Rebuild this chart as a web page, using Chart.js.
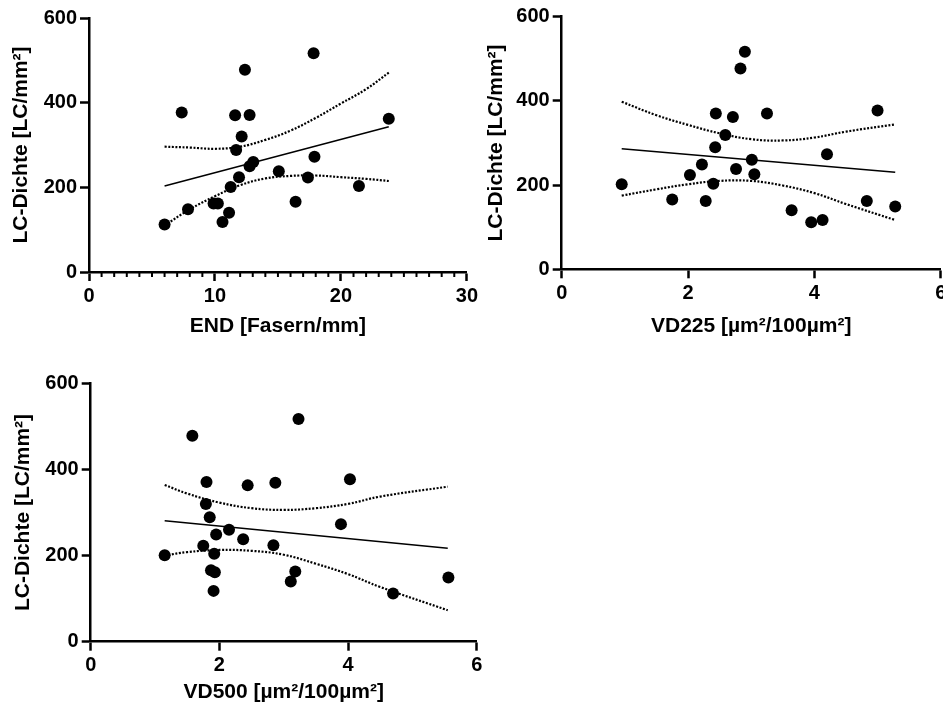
<!DOCTYPE html>
<html>
<head>
<meta charset="utf-8">
<script src="https://cdn.jsdelivr.net/npm/chart.js@4.4.0/dist/chart.umd.min.js"></script>
<style>
  html, body { margin: 0; padding: 0; background: #fff; overflow: hidden; width: 943px; height: 713px; }
  canvas { position: absolute; }
</style>
</head>
<body>
<canvas id="end-chart" width="481" height="340" style="left:0;top:0"></canvas>
<canvas id="vd225-chart" width="475" height="340" style="left:480px;top:0"></canvas>
<canvas id="vd500-chart" width="490" height="356" style="left:0;top:350px"></canvas>
<script>
// END [Fasern/mm] vs LC-Dichte
const endX = [6.0, 7.36, 7.86, 9.89, 10.23, 10.6, 11.12, 11.25, 11.6, 11.68, 11.91, 12.12, 12.38, 12.75, 12.75, 13.04, 15.07, 16.4, 17.38, 17.83, 17.9, 21.43, 23.8];
const endY = [112, 377, 148, 162, 162, 118, 140, 201, 370, 288, 224, 320, 478, 371, 250, 260, 238, 166, 223, 517, 272, 203, 362];
const endFitX = [6.0, 23.8];
const endFitY = [203, 343];
const endBandX = [6, 8, 10, 12, 14, 16, 18, 20, 22, 23.8];
const endUpper = [296, 294, 291, 296, 312, 334, 364, 398, 432, 471];
const endLower = [110, 148, 179, 205, 221, 227, 228, 224, 220, 215];

// VD225 vs LC-Dichte
const vd225X = [0.95, 1.75, 2.03, 2.22, 2.28, 2.40, 2.43, 2.44, 2.59, 2.71, 2.76, 2.83, 2.90, 3.01, 3.05, 3.25, 3.64, 3.95, 4.13, 4.20, 4.83, 5.0, 5.28];
const vd225Y = [202, 166, 224, 249, 162, 203, 290, 370, 319, 362, 238, 477, 517, 260, 226, 370, 140, 112, 117, 273, 162, 377, 149];
const vd225FitX = [0.95, 5.28];
const vd225FitY = [286.5, 230.5];
const vd225BandX = [0.95, 1.5, 2, 2.5, 3, 3.5, 4, 4.5, 5.28];
const vd225Upper = [398, 366, 343, 323, 309, 306, 313, 327, 344];
const vd225Lower = [175, 190, 202, 210, 210, 199, 181, 155, 117];

// VD500 vs LC-Dichte
const vd500X = [1.15, 1.58, 1.75, 1.79, 1.80, 1.85, 1.87, 1.91, 1.92, 1.93, 1.95, 2.15, 2.37, 2.44, 2.84, 2.87, 3.11, 3.18, 3.23, 3.89, 4.03, 4.70, 5.56];
const vd500Y = [201, 478, 223, 320, 371, 289, 166, 118, 204, 161, 249, 260, 238, 363, 224, 369, 140, 163, 517, 273, 377, 112, 149];
const vd500FitX = [1.15, 5.55];
const vd500FitY = [281, 217];
const vd500BandX = [1.15, 1.5, 2, 2.5, 3, 3.5, 4, 4.5, 5.55];
const vd500Upper = [364, 344, 323, 310, 306, 310, 320, 337, 360];
const vd500Lower = [200, 208, 213, 211, 202, 181, 157, 127, 73];

const yTitle = "LC-Dichte [LC/mm²]";

Chart.defaults.font.family = '"Liberation Sans", Arial, sans-serif';
Chart.defaults.font.weight = "bold";
Chart.defaults.color = "#000";

function toPoints(xs, ys) {
  return xs.map((x, i) => ({ x: x, y: ys[i] }));
}

// small ticks every 1 unit on the END axis
const minorTicks = {
  id: "minorTicks",
  afterDraw(chart) {
    const scale = chart.scales.x;
    const ctx = chart.ctx;
    const bottom = chart.chartArea.bottom;
    ctx.save();
    ctx.strokeStyle = "#000";
    ctx.lineWidth = 2;
    for (let v = scale.min + 1; v < scale.max; v++) {
      if (v % 10 === 0) continue;
      const px = scale.getPixelForValue(v);
      ctx.beginPath();
      ctx.moveTo(px, bottom);
      ctx.lineTo(px, bottom + 5);
      ctx.stroke();
    }
    ctx.restore();
  },
};

function makeChart(id, p) {
  const bandStyle = {
    showLine: true,
    pointRadius: 0,
    borderColor: "#000",
    borderWidth: 2.2,
    borderDash: [2, 1.6],
    tension: 0.4,
    fill: false,
  };
  return new Chart(document.getElementById(id), {
    type: "scatter",
    data: {
      datasets: [
        {
          data: toPoints(p.xs, p.ys),
          pointRadius: 6,
          pointBackgroundColor: "#000",
          pointBorderWidth: 0,
        },
        {
          data: toPoints(p.fitX, p.fitY),
          showLine: true,
          pointRadius: 0,
          borderColor: "#000",
          borderWidth: 1.5,
        },
        Object.assign({ data: toPoints(p.bandX, p.upper) }, bandStyle),
        Object.assign({ data: toPoints(p.bandX, p.lower) }, bandStyle),
      ],
    },
    options: {
      responsive: false,
      animation: false,
      layout: { padding: p.padding },
      scales: {
        x: {
          min: 0,
          max: p.xMax,
          afterFit(scale) { scale.height = p.xHeight; },
          ticks: { stepSize: p.xStep, padding: 3, font: { size: 20 } },
          grid: { drawOnChartArea: false, tickLength: 9, tickWidth: 2.5, tickColor: "#000" },
          border: { display: true, color: "#000", width: 2.5 },
          title: { display: true, text: p.xTitle, font: { size: 21 }, padding: { top: 0, bottom: 0 } },
        },
        y: {
          min: 0,
          max: 600,
          afterFit(scale) { scale.width = p.yWidth; },
          ticks: { stepSize: 200, padding: 3, font: { size: 20 } },
          grid: { drawOnChartArea: false, tickLength: 9, tickWidth: 2.5, tickColor: "#000" },
          border: { display: true, color: "#000", width: 2.5 },
          title: { display: true, text: yTitle, font: { size: 21 }, padding: { top: p.yTitlePad, bottom: 0 } },
        },
      },
      plugins: {
        legend: { display: false },
        tooltip: { enabled: false },
      },
    },
    plugins: p.minor ? [minorTicks] : [],
  });
}

makeChart("end-chart", {
  xs: endX, ys: endY, fitX: endFitX, fitY: endFitY,
  bandX: endBandX, upper: endUpper, lower: endLower,
  xTitle: "END [Fasern/mm]", xMax: 30, xStep: 10,
  padding: { top: 18, right: 11.7, left: 0, bottom: 1 },
  yWidth: 89, xHeight: 67, yTitlePad: 9, minor: true,
});

makeChart("vd225-chart", {
  xs: vd225X, ys: vd225Y, fitX: vd225FitX, fitY: vd225FitY,
  bandX: vd225BandX, upper: vd225Upper, lower: vd225Lower,
  xTitle: "VD225 [µm²/100µm²]", xMax: 6, xStep: 2,
  padding: { top: 16.7, right: 14.3, left: 0, bottom: 1 },
  yWidth: 81.7, xHeight: 69.7, yTitlePad: 4, minor: false,
});

makeChart("vd500-chart", {
  xs: vd500X, ys: vd500Y, fitX: vd500FitX, fitY: vd500FitY,
  bandX: vd500BandX, upper: vd500Upper, lower: vd500Lower,
  xTitle: "VD500 [µm²/100µm²]", xMax: 6, xStep: 2,
  padding: { top: 33.3, right: 13.3, left: 0, bottom: 1 },
  yWidth: 90.7, xHeight: 63.3, yTitlePad: 10.8, minor: false,
});
</script>
</body>
</html>
